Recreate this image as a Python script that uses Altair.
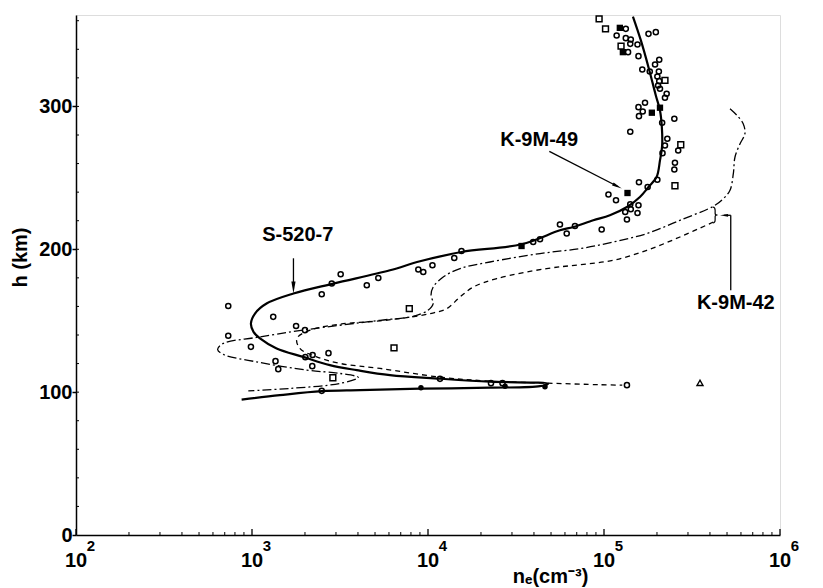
import altair as alt
import pandas as pd

# ---------------- data ----------------
# S-520-7 profile (solid)
s520_ne = [1.46e5, 1.62e5, 1.81e5, 1.97e5, 2.08e5, 2.13e5, 2.14e5, 2.08e5, 1.99e5, 1.79e5,
           1.60e5, 1.35e5, 1.08e5, 8.69e4, 6.70e4, 5.62e4, 3.40e4, 1.55e4, 9.01e3, 6.08e3,
           2.90e3, 1.72e3, 1.21e3, 1.04e3, 986, 1.02e3, 1.11e3, 1.38e3, 1.95e3, 2.77e3,
           3.94e3, 6.08e3, 1.17e4, 2.25e4, 4.81e4, 4.33e4, 2.25e4, 9.01e3, 4.11e3, 2.49e3,
           1.44e3, 873]
s520_h = [362.9, 346.2, 325.2, 307.7, 297.2, 286.0, 272.7, 262.2, 250.6, 243.6,
          236.6, 229.6, 223.8, 220.3, 215.6, 213.3, 203.5, 198.1, 191.6, 185.3,
          176.0, 169.0, 162.0, 155.0, 148.0, 142.2, 137.6, 130.6, 124.7, 118.9,
          115.4, 111.9, 109.4, 107.3, 105.9, 104.2, 103.1, 102.4, 101.4, 100.7,
          97.9, 94.8]

# K-9M-42 profile, dash-dot
k42a_ne = [5.20e5, 5.70e5, 6.18e5, 6.32e5, 5.93e5, 5.55e5, 5.43e5, 5.20e5, 4.76e5, 4.18e5,
           2.70e5, 1.75e5, 1.13e5, 7.31e4, 4.33e4, 2.25e4, 1.52e4, 1.22e4, 1.07e4, 1.04e4,
           1.07e4, 1.0e4, 8.24e3, 5.34e3, 2.05e3, 1.06e3, 687, 638, 687, 1.06e3,
           2.05e3, 3.16e3, 4.02e3, 3.16e3, 1.64e3, 953]
k42a_h = [298.4, 293.7, 287.9, 280.9, 273.9, 264.6, 252.9, 241.3, 235.4, 230.1,
          220.3, 211.0, 205.1, 200.5, 197.0, 191.1, 186.5, 180.6, 173.6, 167.8,
          162.0, 157.3, 153.1, 150.3, 143.8, 138.3, 134.1, 129.9, 126.4, 121.2,
          115.4, 113.1, 110.3, 106.1, 102.6, 100.9]

# K-9M-42 profile, dashed
k42b_ne = [4.18e5, 2.70e5, 1.75e5, 1.13e5, 7.31e4, 4.72e4, 2.46e4, 1.81e4, 1.52e4, 1.28e4,
           1.03e4, 7.57e3, 5.34e3, 3.16e3, 2.14e3, 1.80e3, 1.87e3, 2.33e3, 3.16e3, 5.34e3,
           1.17e4, 2.25e4, 4.81e4, 9.49e4, 1.27e5]
k42b_h = [219.1, 208.6, 199.3, 192.3, 189.2, 186.5, 179.5, 173.6, 166.6, 158.5,
          155.0, 152.2, 149.9, 147.6, 143.4, 137.6, 130.6, 124.7, 120.1, 116.6,
          110.5, 107.7, 106.3, 105.2, 104.9]

# open circles
circ_ne = [1.33e5, 1.18e5, 1.33e5, 1.42e5, 1.41e5, 1.55e5, 1.37e5, 1.57e5, 1.79e5, 1.97e5,
           2.06e5, 1.95e5, 1.65e5, 1.82e5, 2.05e5, 2.01e5, 2.06e5, 2.03e5, 2.08e5, 2.27e5,
           2.22e5, 1.71e5, 1.57e5, 1.66e5, 1.58e5, 2.51e5, 2.14e5, 1.41e5, 2.29e5, 2.22e5,
           2.15e5, 2.64e5, 2.53e5, 2.51e5, 2.01e5, 1.58e5, 1.77e5, 1.06e5, 1.17e5, 1.41e5,
           1.57e5, 1.42e5, 1.32e5, 1.55e5, 1.35e5, 9.70e4, 6.84e4, 6.14e4, 5.62e4, 3.96e4,
           4.33e4, 1.55e4, 1.41e4, 1.06e4, 8.81e3, 9.40e3, 5.22e3, 4.49e3, 3.19e3, 2.84e3,
           2.49e3, 733, 1.32e3, 1.78e3, 2.00e3, 733, 986, 2.72e3, 2.21e3, 2.01e3,
           1.36e3, 1.41e3, 2.20e3, 1.17e4, 2.28e4, 2.65e4, 1.35e5, 2.49e3]
circ_h = [354.3, 349.7, 347.8, 346.9, 343.8, 343.4, 338.0, 335.2, 350.8, 352.0,
          332.7, 329.4, 325.9, 324.5, 324.5, 321.0, 317.7, 314.7, 312.4, 308.9,
          306.1, 302.6, 299.5, 296.5, 293.2, 291.4, 288.6, 282.3, 277.4, 272.7,
          267.3, 269.2, 260.6, 255.9, 248.7, 246.9, 243.6, 238.3, 234.3, 231.5,
          230.8, 228.0, 226.1, 225.4, 220.8, 213.8, 216.3, 211.0, 217.3, 205.1,
          207.0, 198.8, 193.9, 188.8, 185.8, 184.1, 179.9, 174.8, 182.5, 176.0,
          168.5, 160.3, 152.7, 146.3, 143.4, 139.5, 131.7, 127.3, 126.0, 124.5,
          121.7, 116.1, 118.2, 109.3, 106.3, 106.3, 104.9, 100.9]

# open squares
sq_ne = [9.38e4, 1.02e5, 1.25e5, 2.22e5, 2.73e5, 2.53e5, 7.83e3, 6.41e3, 2.88e3]
sq_h = [361.3, 354.3, 342.2, 318.2, 273.2, 244.5, 158.5, 131.0, 110.1]

# filled squares
fsq_ne = [1.23e5, 1.28e5, 2.08e5, 1.87e5, 1.36e5, 3.40e4]
fsq_h = [355.0, 338.0, 299.1, 295.6, 239.4, 202.3]

# filled dots
dot_ne = [9.12e3, 2.74e4, 4.62e4]
dot_h = [103.0, 104.2, 103.8]

# open triangle
tri_ne = [3.51e5]
tri_h = [106.5]

# labels
ann_text = ["S-520-7", "K-9M-49", "K-9M-42"]
ann_ne = [1.82e3, 4.28e4, 5.61e5]
ann_h = [209.8, 276.8, 162.6]

# axis ticks / labels
x_major = [1e2, 1e3, 1e4, 1e5, 1e6]
x_exp = ["2", "3", "4", "5", "6"]
y_major = [0, 100, 200, 300]
y_minor = list(range(20, 361, 20))

# ---------------- chart ----------------
FONT = "Liberation Sans"
XS = alt.Scale(type="log", domain=[100, 1e6])
YS = alt.Scale(domain=[0, 364])

x_axis = alt.Axis(labels=False, ticks=False, grid=False, domainColor="black", domainWidth=1.5,
                  title="nₑ(cm⁻³)", titleX=474, titleY=47, titleAlign="center",
                  titleBaseline="alphabetic", titleFontSize=20, titleFont=FONT,
                  titleFontWeight="bold", titleColor="black")
y_axis = alt.Axis(values=y_major, grid=False, domainColor="black", domainWidth=1.5,
                  tickColor="black", tickSize=4, tickWidth=1.5, labelPadding=0,
                  labelFontSize=20, labelFont=FONT, labelFontWeight="bold", labelColor="black",
                  title="h (km)", titleAngle=270, titleX=-56, titleY=242, titleAlign="center",
                  titleBaseline="middle", titleFontSize=20, titleFont=FONT,
                  titleFontWeight="bold", titleColor="black")


def X(f="ne"):
    return alt.X(f"{f}:Q", scale=XS, axis=x_axis)


def Y(f="h"):
    return alt.Y(f"{f}:Q", scale=YS, axis=y_axis)


def line_df(ne, h):
    return pd.DataFrame({"ne": ne, "h": h, "i": list(range(len(ne)))})


solid = alt.Chart(line_df(s520_ne, s520_h)).mark_line(
    color="black", strokeWidth=2.2, interpolate="catmull-rom"
).encode(x=X(), y=Y(), order=alt.Order("i:Q"))

dashdot = alt.Chart(line_df(k42a_ne, k42a_h)).mark_line(
    color="black", strokeWidth=1.3, strokeDash=[9, 3, 2, 3], interpolate="catmull-rom"
).encode(x=X(), y=Y(), order=alt.Order("i:Q"))

dashed = alt.Chart(line_df(k42b_ne, k42b_h)).mark_line(
    color="black", strokeWidth=1.3, strokeDash=[5, 4], interpolate="catmull-rom"
).encode(x=X(), y=Y(), order=alt.Order("i:Q"))

circles = alt.Chart(pd.DataFrame({"ne": circ_ne, "h": circ_h})).mark_point(
    shape="circle", filled=False, color="black", size=26, strokeWidth=1.5, opacity=1
).encode(x=X(), y=Y())

squares = alt.Chart(pd.DataFrame({"ne": sq_ne, "h": sq_h})).mark_point(
    shape="square", filled=False, color="black", size=34, strokeWidth=1.5, opacity=1
).encode(x=X(), y=Y())

fsquares = alt.Chart(pd.DataFrame({"ne": fsq_ne, "h": fsq_h})).mark_point(
    shape="square", filled=True, color="black", size=40, opacity=1
).encode(x=X(), y=Y())

dots = alt.Chart(pd.DataFrame({"ne": dot_ne, "h": dot_h})).mark_point(
    shape="circle", filled=True, color="black", size=30, opacity=1
).encode(x=X(), y=Y())

tris = alt.Chart(pd.DataFrame({"ne": tri_ne, "h": tri_h})).mark_point(
    shape="triangle-up", filled=False, color="black", size=36, strokeWidth=1.4, opacity=1
).encode(x=X(), y=Y())

labels = alt.Chart(pd.DataFrame({"ne": ann_ne, "h": ann_h, "t": ann_text})).mark_text(
    font=FONT, fontSize=20, fontWeight="bold", color="black", align="center", baseline="middle"
).encode(x=X(), y=Y(), text="t:N")

# leader lines for the labels
leaders = alt.Chart(pd.DataFrame({
    "ne": [1.72e3, 4.89e4, 5.25e5, 5.25e5],
    "h": [193.7, 268.5, 171.3, 223.8],
    "ne2": [1.72e3, 1.19e5, 5.25e5, 4.81e5],
    "h2": [175.0, 244.1, 223.8, 223.8],
})).mark_rule(color="black", strokeWidth=1.3).encode(
    x=X(), y=Y(), x2=alt.X2("ne2"), y2=alt.Y2("h2"))

head_down = alt.Chart(pd.DataFrame({"ne": [1.72e3], "h": [173.2]})).mark_point(
    shape="M-0.35,-1L0.35,-1L0,1Z", filled=True, color="black", size=144, opacity=1
).encode(x=X(), y=Y())

head_diag = alt.Chart(pd.DataFrame({"ne": [1.19e5], "h": [244.1]})).mark_point(
    shape="M-1,-0.35L1,0L-1,0.35Z", filled=True, color="black", size=100, angle=27, opacity=1
).encode(x=X(), y=Y())

head_left = alt.Chart(pd.DataFrame({"ne": [4.81e5], "h": [223.8]})).mark_point(
    shape="M1,-0.35L-1,0L1,0.35Z", filled=True, color="black", size=64, opacity=1
).encode(x=X(), y=Y())

# curly bracket joining the two K-9M-42 curves
brace = alt.Chart(pd.DataFrame({"ne": [4.28e5], "h": [224.0]})).mark_point(
    shape="M-0.3,-1Q0,-1 0,-0.6L0,-0.2Q0,0 0.3,0Q0,0 0,0.2L0,0.6Q0,1 -0.3,1",
    filled=False, color="black", size=256, strokeWidth=1.2, opacity=1
).encode(x=X(), y=Y())

# inward minor ticks
x_minor = [m * 10 ** k for k in range(2, 6) for m in range(2, 10)]
xt_minor = alt.Chart(pd.DataFrame({"ne": x_minor})).mark_rule(color="black", strokeWidth=1).encode(
    x=X(), y=alt.value(520), y2=alt.value(517))
xt_major = alt.Chart(pd.DataFrame({"ne": x_major})).mark_rule(color="black", strokeWidth=1.3).encode(
    x=X(), y=alt.value(520), y2=alt.value(514))
yt_minor = alt.Chart(pd.DataFrame({"h": y_minor})).mark_rule(color="black", strokeWidth=1).encode(
    y=Y(), x=alt.value(0), x2=alt.value(3))

# x tick labels: 10 with superscript exponent
xl_df = pd.DataFrame({"ne": x_major, "base": ["10"] * 5, "exp": x_exp})
xl_base = alt.Chart(xl_df).mark_text(
    font=FONT, fontSize=20, fontWeight="bold", color="black", align="center", baseline="alphabetic"
).encode(x=X(), y=alt.value(552), text="base:N")
xl_exp = alt.Chart(xl_df).mark_text(
    font=FONT, fontSize=15, fontWeight="bold", color="black", align="center", baseline="alphabetic",
    dx=15
).encode(x=X(), y=alt.value(536), text="exp:N")

chart = alt.layer(
    dashed, dashdot, solid, circles, squares, fsquares, dots, tris,
    leaders, head_down, head_diag, head_left, brace, labels,
    xt_minor, xt_major, yt_minor, xl_base, xl_exp
).properties(
    width=704, height=520,
    autosize=alt.AutoSizeParams(type="none"),
    padding={"left": 68, "top": 7, "right": 35, "bottom": 53},
    background="white",
).configure_view(stroke=None).configure(font=FONT)

chart.save("out.html", embed_options={"renderer": "svg", "actions": False})
